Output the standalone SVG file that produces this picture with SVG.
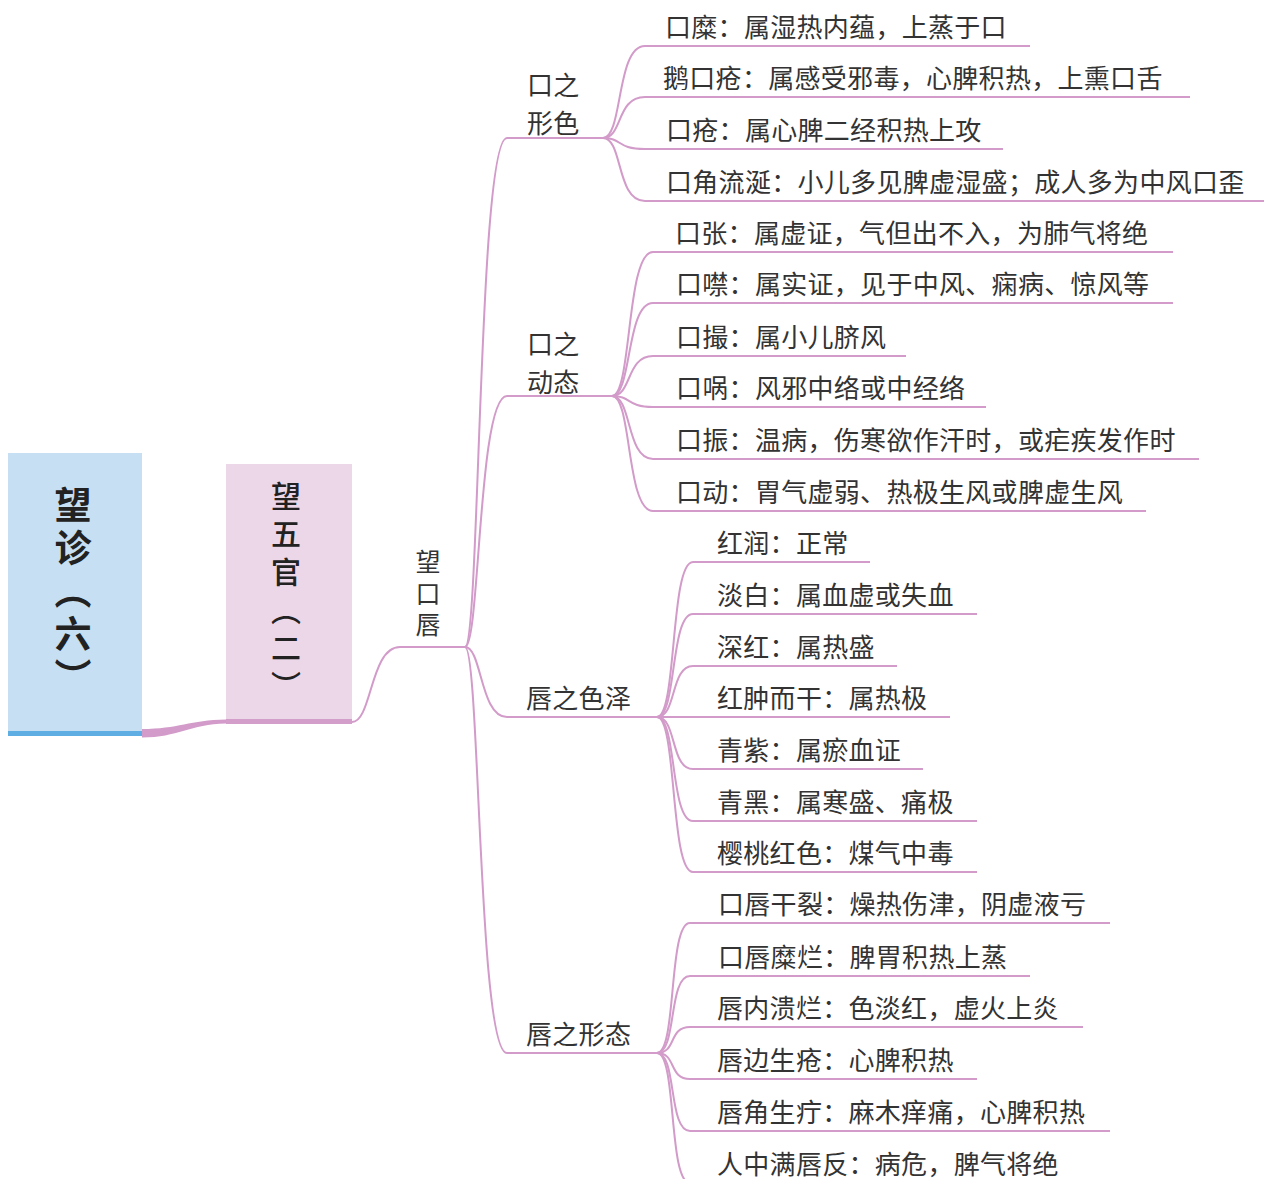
<svg xmlns="http://www.w3.org/2000/svg" width="1264" height="1179" viewBox="0 0 1264 1179">
<style>
.ln{fill:none;stroke:#d29bc9;stroke-width:2}
.t{font-family:"Noto Sans CJK SC","Noto Sans",sans-serif;font-size:26px;fill:#333;letter-spacing:0.3px}
.v{font-family:"Noto Sans CJK SC","Noto Sans",sans-serif;writing-mode:vertical-rl;fill:#222}
</style>
<rect width="1264" height="1179" fill="#fff"/>
<g id="connectors">
<path d="M142,729 C178,729 190,720 226,719.5 L226,723.5 C190,724 178,737.5 142,737.5 Z" fill="#d29bc9"/>
<path class="ln" d="M352,722 C372,722 370,647 400,647 L465,647"/>
<path class="ln" d="M465,647 C480,647 478,138 507,138 L603,138"/>
<path class="ln" d="M465,647 C480,647 478,396 507,396 L612,396"/>
<path class="ln" d="M465,647 C482,647 480,717 507,717 L657,717"/>
<path class="ln" d="M465,647 C480,647 478,1053 507,1053 L657,1053"/>
<path class="ln" d="M603,138 C623,138 616,46 645,46 L1030,46"/>
<path class="ln" d="M603,138 C623,138 616,97 645,97 L1190,97"/>
<path class="ln" d="M603,138 C623,138 616,149 645,149 L1003,149"/>
<path class="ln" d="M603,138 C623,138 616,201 645,201 L1264,201"/>
<path class="ln" d="M612,396 C632,396 626,252 653,252 L1173,252"/>
<path class="ln" d="M612,396 C632,396 626,303 653,303 L1173,303"/>
<path class="ln" d="M612,396 C632,396 626,356 653,356 L906,356"/>
<path class="ln" d="M612,396 C632,396 626,407 653,407 L986,407"/>
<path class="ln" d="M612,396 C632,396 626,459 653,459 L1199,459"/>
<path class="ln" d="M612,396 C632,396 626,511 653,511 L1146,511"/>
<path class="ln" d="M657,717 C677,717 670,562 693,562 L870,562"/>
<path class="ln" d="M657,717 C677,717 670,614 693,614 L977,614"/>
<path class="ln" d="M657,717 C677,717 670,666 693,666 L897,666"/>
<path class="ln" d="M657,717 L950,717"/>
<path class="ln" d="M657,717 C677,717 670,769 693,769 L923,769"/>
<path class="ln" d="M657,717 C677,717 670,821 693,821 L977,821"/>
<path class="ln" d="M657,717 C677,717 670,872 693,872 L977,872"/>
<path class="ln" d="M657,1053 C677,1053 668,923 690,923 L1110,923"/>
<path class="ln" d="M657,1053 C677,1053 668,976 690,976 L1030,976"/>
<path class="ln" d="M657,1053 C677,1053 668,1027 690,1027 L1083,1027"/>
<path class="ln" d="M657,1053 C677,1053 668,1079 690,1079 L977,1079"/>
<path class="ln" d="M657,1053 C677,1053 668,1131 690,1131 L1110,1131"/>
<path class="ln" d="M657,1053 C677,1053 668,1183 690,1183 L1083,1183"/>
</g>
<g id="root">
<rect x="8" y="453" width="134" height="280" fill="#c6dff2"/>
<rect x="8" y="731" width="134" height="5" fill="#5eaee3"/>
<text class="v" x="73" y="486" style="font-size:37px;font-weight:bold;letter-spacing:6px">望诊（六）</text>
</g>
<g id="n-wuguan">
<rect x="226" y="464" width="126" height="256" fill="#ecd7e9"/>
<rect x="226" y="719" width="126" height="5" fill="#d39fca"/>
<text class="v" x="286" y="481" style="font-size:30px;font-weight:500;letter-spacing:8px">望五官（二）</text>
</g>
<g id="n-koucun">
<text class="v" x="428" y="549" style="font-size:25px;letter-spacing:6.5px;fill:#333">望口唇</text>
</g>
<g id="n-xingse">
<text class="t" x="527" y="95">口之<tspan x="527" y="133">形色</tspan></text>
</g>
<g id="n-dongtai">
<text class="t" x="527" y="354">口之<tspan x="527" y="392">动态</tspan></text>
</g>
<g id="n-sezhe"><text class="t" x="526" y="708">唇之色泽</text></g>
<g id="n-xingtai"><text class="t" x="526" y="1044">唇之形态</text></g>
<g id="leaves-1">
<text class="t" x="665" y="37">口糜：属湿热内蕴，上蒸于口</text>
<text class="t" x="663" y="88">鹅口疮：属感受邪毒，心脾积热，上熏口舌</text>
<text class="t" x="666" y="140">口疮：属心脾二经积热上攻</text>
<text class="t" x="666" y="192">口角流涎：小儿多见脾虚湿盛；成人多为中风口歪</text>
</g>
<g id="leaves-2">
<text class="t" x="675" y="243">口张：属虚证，气但出不入，为肺气将绝</text>
<text class="t" x="676" y="294">口噤：属实证，见于中风、痫病、惊风等</text>
<text class="t" x="676" y="347">口撮：属小儿脐风</text>
<text class="t" x="676" y="398">口㖞：风邪中络或中经络</text>
<text class="t" x="676" y="450">口振：温病，伤寒欲作汗时，或疟疾发作时</text>
<text class="t" x="676" y="502">口动：胃气虚弱、热极生风或脾虚生风</text>
</g>
<g id="leaves-3">
<text class="t" x="717" y="553">红润：正常</text>
<text class="t" x="717" y="605">淡白：属血虚或失血</text>
<text class="t" x="717" y="657">深红：属热盛</text>
<text class="t" x="717" y="708">红肿而干：属热极</text>
<text class="t" x="717" y="760">青紫：属瘀血证</text>
<text class="t" x="717" y="812">青黑：属寒盛、痛极</text>
<text class="t" x="717" y="863">樱桃红色：煤气中毒</text>
</g>
<g id="leaves-4">
<text class="t" x="718" y="914">口唇干裂：燥热伤津，阴虚液亏</text>
<text class="t" x="718" y="967">口唇糜烂：脾胃积热上蒸</text>
<text class="t" x="717" y="1018">唇内溃烂：色淡红，虚火上炎</text>
<text class="t" x="717" y="1070">唇边生疮：心脾积热</text>
<text class="t" x="717" y="1122">唇角生疔：麻木痒痛，心脾积热</text>
<text class="t" x="717" y="1174">人中满唇反：病危，脾气将绝</text>
</g>
</svg>
